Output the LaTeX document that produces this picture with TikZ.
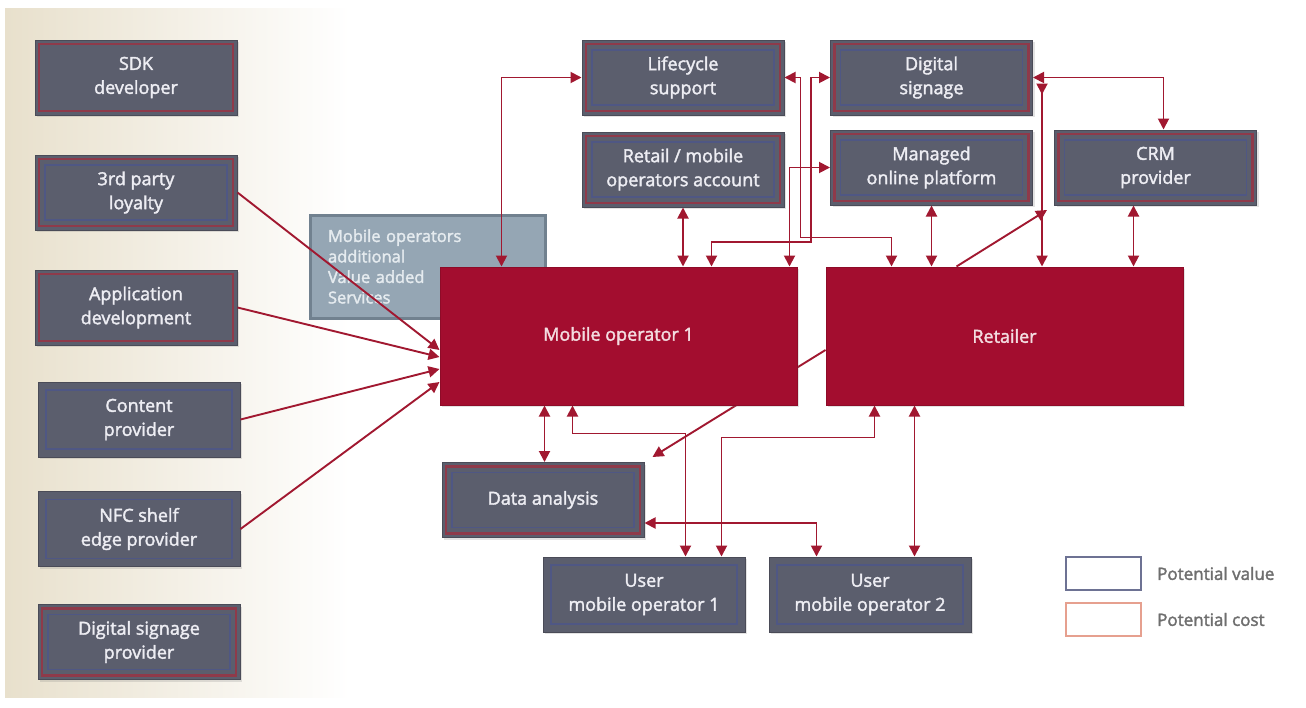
\documentclass[tikz,border=0pt]{standalone}
\usepackage{fontspec}
\setmainfont{Open Sans}
\newfontfamily\labelfont[FakeBold=2]{Open Sans}
\usetikzlibrary{arrows.meta,calc,shadows}

\definecolor{boxfill}{HTML}{5B5E6D}
\definecolor{boxedge}{HTML}{4A4B57}
\definecolor{costline}{HTML}{8E3A4A}
\definecolor{valueline}{HTML}{4F5784}
\definecolor{boxtext}{HTML}{EDEDF3}
\definecolor{crimson}{HTML}{A30D2F}
\definecolor{crimsonedge}{HTML}{8E0B28}
\definecolor{crimsontext}{HTML}{F3DCE0}
\definecolor{wirered}{HTML}{A11830}
\definecolor{vasfill}{HTML}{95A6B4}
\definecolor{vasedge}{HTML}{71818F}
\definecolor{vastext}{HTML}{E5EBEF}
\definecolor{beige}{HTML}{E8E0CC}
\definecolor{legvalue}{HTML}{6D7293}
\definecolor{legcost}{HTML}{E6A08F}
\definecolor{legtext}{HTML}{6E6E6E}

\pgfdeclarelayer{under}
\pgfsetlayers{under,main}

\tikzset{
  softshadow/.style={drop shadow={opacity=0.22, shadow xshift=2pt, shadow yshift=-2pt}},
  actor/.style={rectangle, fill=boxfill, draw=boxedge, line width=1pt,
    minimum width=202pt, minimum height=75pt, inner sep=0pt, align=center,
    text=boxtext, font=\labelfont\fontsize{18}{24}\selectfont, softshadow},
  costring/.style={path picture={
    \draw[costline,line width=2.2pt]
      ([shift={(4pt,-4pt)}]path picture bounding box.north west) rectangle
      ([shift={(-4pt,4pt)}]path picture bounding box.south east);}},
  valuering/.style={path picture={
    \draw[valueline,line width=1.4pt]
      ([shift={(8pt,-8pt)}]path picture bounding box.north west) rectangle
      ([shift={(-8pt,8pt)}]path picture bounding box.south east);}},
  dualring/.style={path picture={
    \draw[costline,line width=2.2pt]
      ([shift={(4pt,-4pt)}]path picture bounding box.north west) rectangle
      ([shift={(-4pt,4pt)}]path picture bounding box.south east);
    \draw[valueline,line width=1.4pt]
      ([shift={(10pt,-10pt)}]path picture bounding box.north west) rectangle
      ([shift={(-10pt,10pt)}]path picture bounding box.south east);}},
  major/.style={rectangle, fill=crimson, draw=crimsonedge, line width=1pt,
    minimum width=357pt, minimum height=138pt, inner sep=0pt,
    text=crimsontext, font=\labelfont\fontsize{18}{24}\selectfont, softshadow},
  link/.style={draw=wirered, line width=1.9pt,
    >={Triangle[length=11pt,width=11pt]}},
  dbl/.style={link,<->},
  one/.style={link,->},
  legbox/.style={rectangle, fill=white, line width=1.5pt,
    minimum width=75pt, minimum height=33pt},
  legnote/.style={anchor=west, text=legtext, font=\labelfont\fontsize{17}{20}\selectfont, inner sep=0pt}
}

\begin{document}
\begin{tikzpicture}[x=1pt,y=-1pt]
\useasboundingbox (0,0) rectangle (1306,707);

% suppliers on the left
\node[actor,costring]  (sdk) at (136,77.5)  {SDK\\developer};
\node[actor,dualring]  (loy) at (136,192.5) {3rd party\\loyalty};
\node[actor,costring]  (app) at (136,307.5) {Application\\development};
\node[actor,valuering] (cnt) at (139,419.5) {Content\\provider};
\node[actor,valuering] (nfc) at (139,529)   {NFC shelf\\edge provider};
\node[actor,dualring]  (dsp) at (139,642)   {Digital signage\\provider};

% services along the top
\node[actor,dualring] (lc)   at (683,77.5)    {Lifecycle\\support};
\node[actor,dualring] (acct) at (683,169.5)   {Retail / mobile\\operators account};
\node[actor,dualring] (ds)   at (931.5,77.5)  {Digital\\signage};
\node[actor,dualring] (mop)  at (931.5,167.5) {Managed\\online platform};
\node[actor,dualring] (crm)  at (1155.5,167.5){CRM\\provider};

% operator value added services
\node[rectangle, fill=vasfill, draw=vasedge, line width=3pt,
  minimum width=235pt, minimum height=103pt, inner xsep=18pt,
  text width=199pt, align=left, text=vastext, softshadow,
  font=\labelfont\fontsize{16.5}{20.5}\selectfont] (vas) at (427.5,266.5)
  {Mobile operators\\additional\\Value added\\Services};

% the two main parties
\node[major] (mo1) at (618.5,336)  {Mobile operator 1};
\node[major] (ret) at (1004.5,336) {Retailer};

% lower row
\node[actor,dualring]  (da) at (543,500)   {Data analysis};
\node[actor,valuering] (u1) at (644,594.5) {User\\mobile operator 1};
\node[actor,valuering] (u2) at (870,594.5) {User\\mobile operator 2};

% page ground and the link that runs behind the operator box
\begin{pgfonlayer}{under}
  \fill[white] (0,0) rectangle (1306,707);
  \shade[left color=beige, middle color=beige!65, right color=white] (5,8) rectangle (350,697);
  \draw[one] ([yshift=-14pt]ret.west) -- ([xshift=8pt,yshift=5pt]da.north east);
\end{pgfonlayer}

% suppliers into the operator
\draw[one] (loy.east) -- ([yshift=-14pt]mo1.west);
\draw[one] (app.east) -- ([yshift=-21pt]mo1.west);
\draw[one] (cnt.east) -- ([yshift=-33pt]mo1.west);
\draw[one] (nfc.east) -- ([yshift=-46pt]mo1.west);

% top links
\draw[dbl] ([xshift=62pt]mo1.north west) |- (lc.west);
\draw[dbl] (acct.south) -- (acct.south |- mo1.north);
\draw[dbl] (lc.east) -- ++(16,0) -- ++(0,160) -| ([xshift=66pt]ret.north west);
\draw[dbl] (ds.west) -- ++(-19,0) -- ++(0,164.5) -| ([xshift=272pt]mo1.north west);
\draw[dbl] (mop.west) -| ([xshift=350pt]mo1.north west);
\draw[dbl] (mop.south) -- (mop.south |- ret.north);
\draw[dbl] (ds.east) -| ([xshift=8pt]crm.north);
\draw[dbl] ([xshift=-22pt]crm.south) -- ([xshift=-22pt]crm.south |- ret.north);
\draw[link, {Triangle[reversed,length=11pt,width=11pt]}-{Triangle[length=11pt,width=11pt]}]
  ([xshift=9pt,yshift=-6pt]ds.east) -- ([xshift=9pt]ds.east |- ret.north);
\coordinate (crmfoot) at (1047,210);
\draw[one] ([xshift=131pt]ret.north west) -- (crmfoot);

% bottom links
\draw[dbl] ([xshift=105pt]mo1.south west) -- ([xshift=105pt]mo1.south west |- da.north);
\draw[dbl] ([xshift=133pt]mo1.south west) -- ++(0,28) -| ([xshift=143pt]u1.north west);
\draw[dbl] ([xshift=49pt]ret.south west) -- ++(0,32) -| ([xshift=179pt]u1.north west);
\draw[dbl] ([xshift=89pt]ret.south west) -- ([xshift=89pt]ret.south west |- u2.north);
\draw[dbl] ([yshift=-23pt]da.east) -| ([xshift=48pt]u2.north west);

% legend
\node[legbox, draw=legvalue] (lgv) at (1103.5,573.5) {};
\node[legbox, draw=legcost]  (lgc) at (1103.5,619.5) {};
\node[legnote] (lgvt) at (1157,573.5) {Potential value};
\node[legnote] (lgct) at (1157,619.5) {Potential cost};
\end{tikzpicture}
\end{document}
